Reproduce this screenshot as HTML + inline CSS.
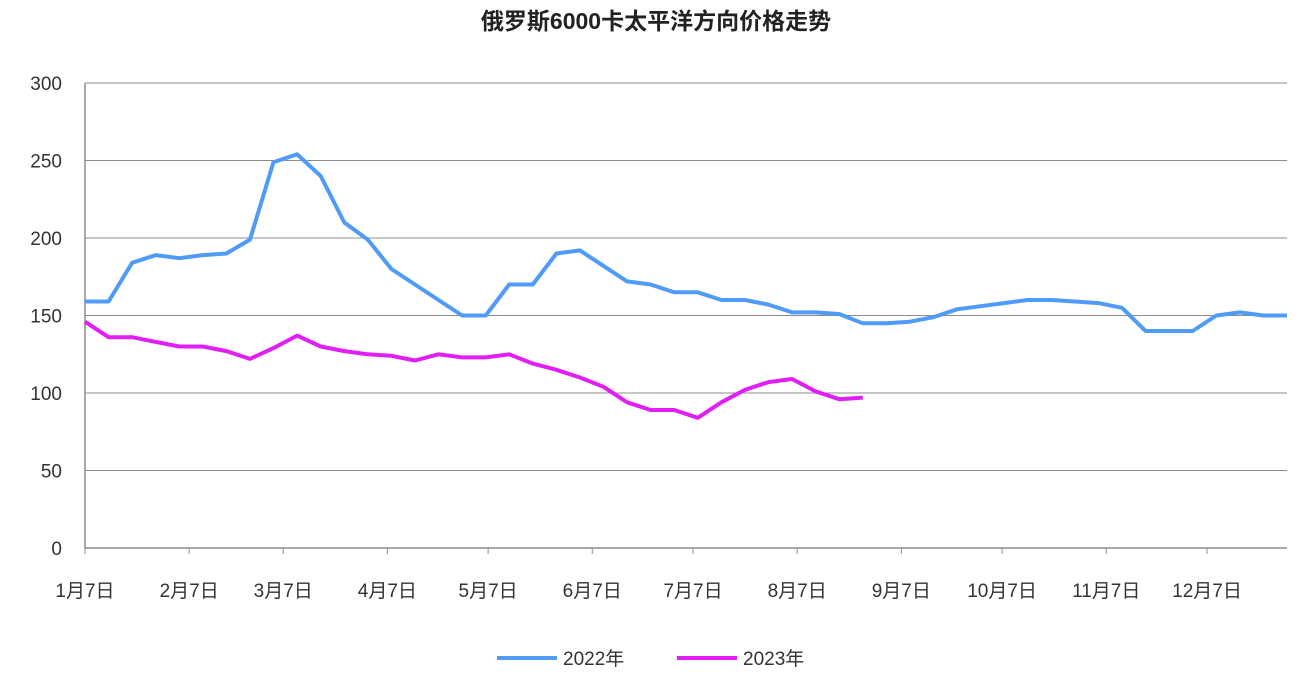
<!DOCTYPE html>
<html><head><meta charset="utf-8"><style>
html,body{margin:0;padding:0;background:#fff;}
svg text{font-family:"Liberation Sans","Noto Sans CJK SC",sans-serif;}
</style></head><body>
<svg id="chart" width="1312" height="688" xmlns="http://www.w3.org/2000/svg">
<text x="656" y="29" text-anchor="middle" font-size="23" font-weight="bold" fill="#222">俄罗斯6000卡太平洋方向价格走势</text>
<g id="grid"></g><g id="axes"></g><g id="series"></g>
<g>
<g><line x1="497" y1="658" x2="557" y2="658" stroke="#4F9BF7" stroke-width="4"/><text x="563" y="665" font-size="19" fill="#333">2022年</text></g>
<g><line x1="677" y1="658" x2="737" y2="658" stroke="#E01EF5" stroke-width="4"/><text x="743" y="665" font-size="19" fill="#333">2023年</text></g>
</g>
</svg>
<script>
const yTicks=[0,50,100,150,200,250,300];
const monthLabels=["1月7日","2月7日","3月7日","4月7日","5月7日","6月7日","7月7日","8月7日","9月7日","10月7日","11月7日","12月7日"];
const monthDays=[0,31,59,90,120,151,181,212,243,273,304,334];
const s2022=[159,159,184,189,187,189,190,199,249,254,240,210,199,180,170,160,150,150,170,170,190,192,182,172,170,165,165,160,160,157,152,152,151,145,145,146,149,154,156,158,160,160,159,158,155,140,140,140,150,152,150,150];
const s2023=[146,136,136,133,130,130,127,122,129,137,130,127,125,124,121,125,123,123,125,119,115,110,104,94,89,89,84,94,102,107,109,101,96,97];
const X0=85,X1=1287,Y0=548,Y1=83;
const xDay=d=>X0+d*(1207-X0)/334;
const xWeek=i=>X0+i*(X1-X0)/51;
const y=v=>Y0-(v/300)*(Y0-Y1);
const NS="http://www.w3.org/2000/svg";
function mk(t,a,p){const e=document.createElementNS(NS,t);for(const k in a)e.setAttribute(k,a[k]);p.appendChild(e);return e;}
const grid=document.getElementById('grid'),axes=document.getElementById('axes'),ser=document.getElementById('series');
yTicks.forEach(v=>{
 if(v>0){const l=mk('line',{x1:X0,x2:X1,y1:y(v),y2:y(v),stroke:'#8c8c8c','stroke-width':1},grid);
 
 }
 const t=mk('text',{x:62,y:y(v)+7,'text-anchor':'end','font-size':19,fill:'#333'},axes);t.textContent=v;
 
 
});
const ax=mk('line',{x1:X0,x2:X1,y1:Y0,y2:Y0,stroke:'#8c8c8c','stroke-width':1.5},axes);


const ay=mk('line',{x1:X0,x2:X0,y1:Y1,y2:Y0,stroke:'#8c8c8c','stroke-width':1.5},axes);


monthDays.forEach((d,i)=>{
 const x=xDay(d);
 mk('line',{x1:x,x2:x,y1:Y0,y2:Y0+6,stroke:'#8c8c8c'},axes);
 const t=mk('text',{x:x,y:597,'text-anchor':'middle','font-size':19,fill:'#333'},axes);t.textContent=monthLabels[i];
 
 
});
function line(data,col,name){
 const pts=data.map((v,i)=>xWeek(i).toFixed(1)+','+y(v).toFixed(1)).join(' ');
 const p=mk('polyline',{points:pts,fill:'none',stroke:col,'stroke-width':4,'stroke-linejoin':'round'},ser);
 
 
}
line(s2022,'#4F9BF7','line-2022');
line(s2023,'#E01EF5','line-2023');
</script>
</body></html>
